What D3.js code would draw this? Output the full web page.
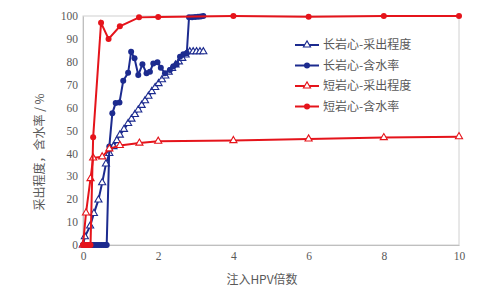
<!DOCTYPE html>
<html><head><meta charset="utf-8">
<script src="https://cdn.jsdelivr.net/npm/d3@7/dist/d3.min.js"></script>
<style>body{margin:0;background:#fff}svg{display:block}</style>
</head><body><svg id="c" width="488" height="291"></svg>
<script>
const xTicks = [0, 2, 4, 6, 8, 10];
const yTicks = [0, 10, 20, 30, 40, 50, 60, 70, 80, 90, 100];
const seriesNames = ["长岩心-采出程度", "长岩心-含水率", "短岩心-采出程度", "短岩心-含水率"];

const longRecX = [0,0.05,0.19,0.29,0.41,0.51,0.61,0.7,0.81,0.9,0.98,1.09,1.2,1.29,1.38,1.47,1.56,1.65,1.74,1.83,1.92,2.01,2.1,2.19,2.28,2.37,2.46,2.55,2.64,2.73,2.84,2.93,3.02,3.11,3.2];
const longRecY = [0,3.6,8.3,13.8,19.7,27.2,35.4,40,43,45.6,48,50.5,53.1,55,57,59,61,63,65,67,68.8,70.5,72.2,73.8,75.5,77.1,78.6,80,81.5,83,84.4,84.4,84.4,84.4,84.4];

const longWcX = [0,0.05,0.1,0.15,0.2,0.25,0.3,0.35,0.4,0.45,0.5,0.55,0.6,0.63,0.7,0.78,0.87,0.97,1.07,1.2,1.28,1.37,1.47,1.58,1.69,1.78,1.87,1.98,2.07,2.18,2.31,2.4,2.49,2.58,2.67,2.76,2.82,2.9,2.98,3.06,3.13,3.2];
const longWcY = [0,0,0,0,0,0,0,0,0,0,0,0,0,0,43,57.5,62,62.2,71.7,75.2,84.4,81.5,74.2,78.9,75,75.7,79.3,79.8,77.4,75,76.4,77.9,78.9,82.2,83.3,83.7,99.5,99.5,99.6,99.7,99.8,100];

const shortRecX = [0,0.08,0.2,0.27,0.51,0.7,0.98,1.5,2,4,6,8,10];
const shortRecY = [0,14,29,38,38.5,42,43.5,44.5,45.3,45.6,46.3,46.9,47.3];

const shortWcX = [0,0.05,0.1,0.15,0.2,0.27,0.48,0.68,0.98,1.49,2,4,6,8,10];
const shortWcY = [0,0,0,0,0,47,97,90,95.5,99.4,99.6,100,99.7,100,100];

const blue = "#1c2b8f", red = "#e5141b";
const svg = d3.select("#c");
const L = 83, R = 459, T = 16, B = 245;
const x = d3.scaleLinear().domain([0, 10]).range([L, R]);
const y = d3.scaleLinear().domain([0, 100]).range([B, T]);

// frame
svg.append("rect").attr("x", L).attr("y", T).attr("width", R - L).attr("height", B - T)
  .attr("fill", "none").attr("stroke", "#d0d0d0").attr("stroke-width", 1);

const xa = svg.append("g").attr("transform", `translate(0,${B})`)
  .call(d3.axisBottom(x).tickValues(xTicks).tickSize(0).tickPadding(7).tickFormat(d3.format("d")));
const ya = svg.append("g").attr("transform", `translate(${L},0)`)
  .call(d3.axisLeft(y).tickValues(yTicks).tickSize(0).tickPadding(5).tickFormat(d3.format("d")));
[xa, ya].forEach(a => {
  a.select(".domain").attr("stroke", "#bfbfbf");
  a.selectAll("text").attr("font-family", "Liberation Serif").attr("font-size", 11.5).attr("fill", "#595959");
});

const series = [
  {xs: longRecX, ys: longRecY, color: blue, m: "tri"},
  {xs: longWcX, ys: longWcY, color: blue, m: "dot"},
  {xs: shortRecX, ys: shortRecY, color: red, m: "tri"},
  {xs: shortWcX, ys: shortWcY, color: red, m: "dot"}
];
const line = d3.line().x(d => x(d[0])).y(d => y(d[1]));
const tri = d3.symbol().type(d3.symbolTriangle).size(22);

function marker(g, cx, cy, s) {
  if (s.m === "dot") {
    g.append("circle").attr("cx", cx).attr("cy", cy).attr("r", 3).attr("fill", s.color);
  } else {
    g.append("path").attr("d", tri).attr("transform", `translate(${cx},${cy})`)
      .attr("fill", "#fff").attr("stroke", s.color).attr("stroke-width", 1.1);
  }
}

series.forEach(s => {
  const pts = s.xs.map((v, i) => [v, s.ys[i]]);
  const g = svg.append("g");
  g.append("path").attr("d", line(pts)).attr("fill", "none").attr("stroke", s.color).attr("stroke-width", 2);
  pts.forEach(p => marker(g, x(p[0]), y(p[1]), s));
});

// legend
const leg = svg.append("g");
seriesNames.forEach((n, i) => {
  const yy = 45 + i * 20.5;
  const s = series[i];
  leg.append("line").attr("x1", 295).attr("x2", 319).attr("y1", yy).attr("y2", yy)
    .attr("stroke", s.color).attr("stroke-width", 2);
  marker(leg, 307, yy, s);
  leg.append("text").attr("x", 323).attr("y", yy).attr("dy", "0.36em")
    .attr("font-family", "Noto Sans CJK SC").attr("font-size", 12).attr("fill", "#595959").text(n);
});

svg.append("text").attr("x", 262).attr("y", 284)
  .attr("text-anchor", "middle").attr("font-family", "Noto Sans CJK SC").attr("font-size", 12)
  .attr("fill", "#595959").text("注入HPV倍数");
svg.append("text").attr("transform", "translate(40,152) rotate(-90)").attr("dy", "0.36em")
  .attr("text-anchor", "middle").attr("font-family", "Noto Sans CJK SC").attr("font-size", 12)
  .attr("fill", "#595959").text("采出程度，含水率 / %");
</script></body></html>
